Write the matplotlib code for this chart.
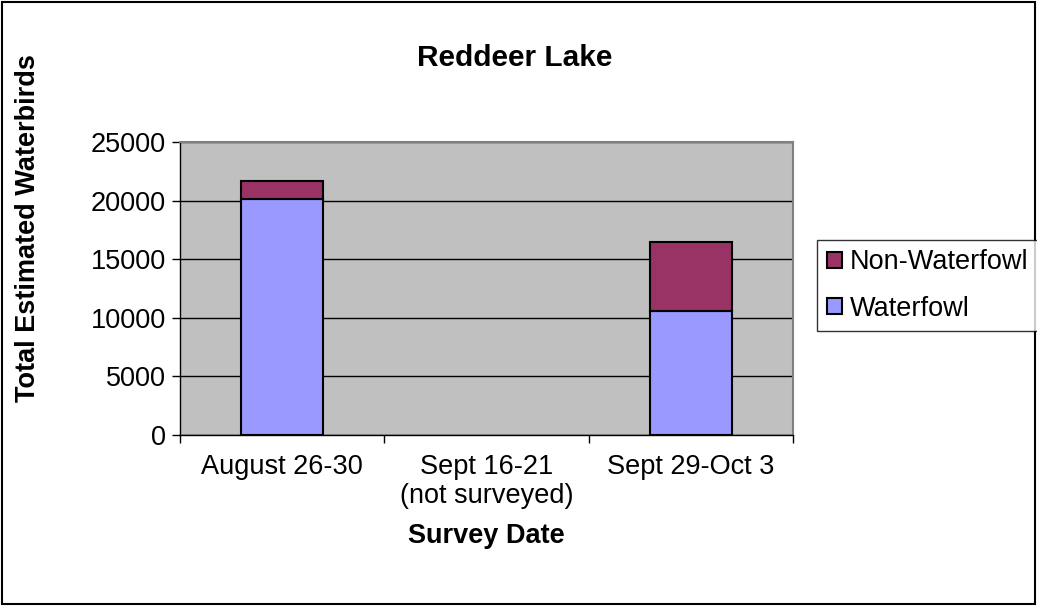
import matplotlib
matplotlib.use('Agg')
import matplotlib.pyplot as plt
import numpy as np

# Data (middle period was not surveyed)
dates = ['August 26-30', 'Sept 16-21\n(not surveyed)', 'Sept 29-Oct 3']
waterfowl = [20150, np.nan, 10580]
non_waterfowl = [1480, np.nan, 5890]

plt.rcParams['font.family'] = ['Liberation Sans', 'DejaVu Sans']

fig = plt.figure(figsize=(10.37, 6.06), dpi=100)
ax = fig.add_axes([0.1736, 0.2822, 0.5911, 0.4835])
ax.set_facecolor('#C0C0C0')

x = np.arange(len(dates))
ax.bar(x, waterfowl, width=0.4, color='#9999FF', edgecolor='black', linewidth=1.5,
       label='Waterfowl', zorder=3)
ax.bar(x, non_waterfowl, width=0.4, bottom=waterfowl, color='#993366', edgecolor='black',
       linewidth=1.5, label='Non-Waterfowl', zorder=3)

ax.set_xlim(-0.5, 2.5)
ax.set_ylim(0, 25000)
ax.set_yticks(range(0, 25001, 5000))
ax.yaxis.grid(True, color='black', linewidth=1, zorder=1)
ax.set_axisbelow(True)

ax.set_xticks(x)
ax.set_xticklabels(dates, fontsize=19.5, linespacing=1.15)
ax.set_xticks([-0.5, 0.5, 1.5, 2.5], minor=True)
ax.tick_params(axis='x', which='major', length=0, pad=14)
ax.tick_params(axis='x', which='minor', length=6, width=1, direction='out')
ax.tick_params(axis='y', length=6, width=1, direction='out', labelsize=19.5, pad=4)

for side in ['top', 'right']:
    ax.spines[side].set_color('#808080')
    ax.spines[side].set_linewidth(1.5)
for side in ['left', 'bottom']:
    ax.spines[side].set_color('black')
    ax.spines[side].set_linewidth(1)

fig.text(0.496, 0.904, 'Reddeer Lake', fontsize=21.5, fontweight='bold',
         ha='center', va='center')
fig.text(0.469, 0.115, 'Survey Date', fontsize=19.5, fontweight='bold',
         ha='center', va='center')
fig.text(0.027, 0.624, 'Total Estimated Waterbirds', fontsize=19.5, fontweight='bold',
         ha='center', va='center', rotation=90)

handles, labels = ax.get_legend_handles_labels()
leg = fig.legend(handles[::-1], labels[::-1], loc='upper left',
                 bbox_to_anchor=(0.788, 0.604), fontsize=19.5, frameon=True,
                 fancybox=False, edgecolor='black', handlelength=0.55,
                 handleheight=0.55, handletextpad=0.3, labelspacing=0.75,
                 borderpad=0.35, borderaxespad=0)
leg.get_frame().set_linewidth(1)

# outer border
fig.patches.append(plt.Rectangle((0.002, 0.003), 0.996, 0.994, transform=fig.transFigure,
                                 fill=False, edgecolor='black', linewidth=1.5))

fig.savefig('out.png', dpi=100)
